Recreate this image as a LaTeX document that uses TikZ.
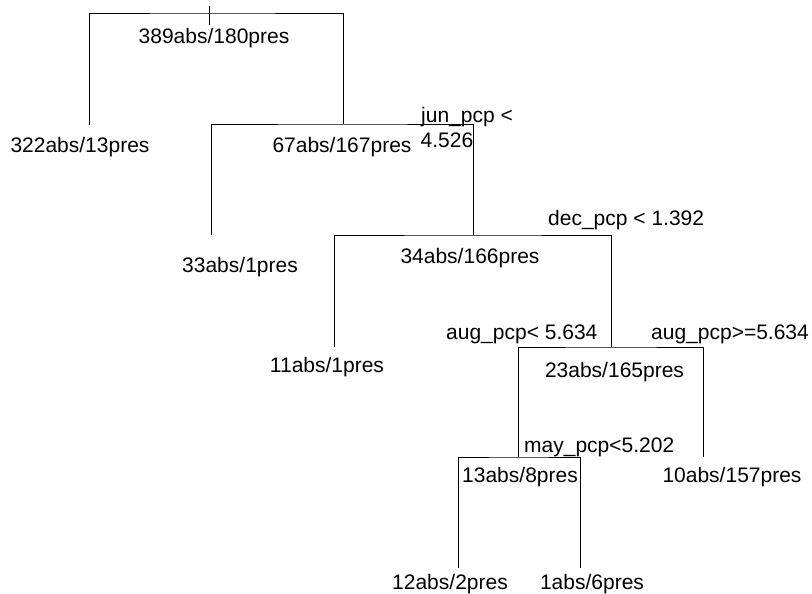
\documentclass[tikz,border=0pt]{standalone}
\usepackage{fontspec}
\setmainfont{Liberation Sans}
\begin{document}
\begin{tikzpicture}[x=1pt,y=-1pt,
  branch/.style={draw=black,line width=0.9pt},
  count/.style={inner sep=0pt,anchor=base,font=\fontsize{21}{25}\selectfont},
  rule/.style={inner sep=0pt,anchor=base west,font=\fontsize{21}{25}\selectfont}]
\useasboundingbox (0,0) rectangle (812,594);

% split points and leaf ends of the tree
\coordinate (top)  at (209,6);
\coordinate (tick) at (209,25);
\coordinate (s1) at (209,13);
\coordinate (s2) at (343,124);
\coordinate (s3) at (473,235);
\coordinate (s4) at (611,347);
\coordinate (s5) at (518,457);
\coordinate (eA) at (89,125);
\coordinate (eB) at (211,235);
\coordinate (eC) at (334,347);
\coordinate (eD) at (458,568);
\coordinate (eE) at (580,568);
\coordinate (eF) at (703,457);

% branches
\draw[branch] (top) -- (tick);
\draw[branch] (eA) |- (s1) -| (s2);
\draw[branch] (eB) |- (s2) -| (s3);
\draw[branch] (eC) |- (s3) -| (s4);
\draw[branch] (s5) |- (s4) -| (eF);
\draw[branch] (eD) |- (s5) -| (eE);

% node counts
\node[count] (n1)  at (214,43.5) {389abs/180pres};
\node[count] (n2)  at (80,152)   {322abs/13pres};
\node[count] (n3)  at (342,152)  {67abs/167pres};
\node[count] (n6)  at (240,272)  {33abs/1pres};
\node[count] (n7)  at (470,263)  {34abs/166pres};
\node[count] (n14) at (327,372)  {11abs/1pres};
\node[count] (n15) at (614.5,377){23abs/165pres};
\node[count] (n30) at (520,482)  {13abs/8pres};
\node[count] (n31) at (732,482)  {10abs/157pres};
\node[count] (n60) at (450,589)  {12abs/2pres};
\node[count] (n61) at (592,589)  {1abs/6pres};

% split rules
\node[rule] (r3a) at (421,122)   {jun\_pcp <};
\node[rule] (r3b) at (420.5,147) {4.526};
\node[rule] (r7)  at (548,225)   {dec\_pcp < 1.392};
\node[rule] (r15l) at (446,339)  {aug\_pcp< 5.634};
\node[rule] (r15r) at (651,339)  {aug\_pcp>=5.634};
\node[rule] (r30) at (524,452)   {may\_pcp<5.202};
\end{tikzpicture}
\end{document}
